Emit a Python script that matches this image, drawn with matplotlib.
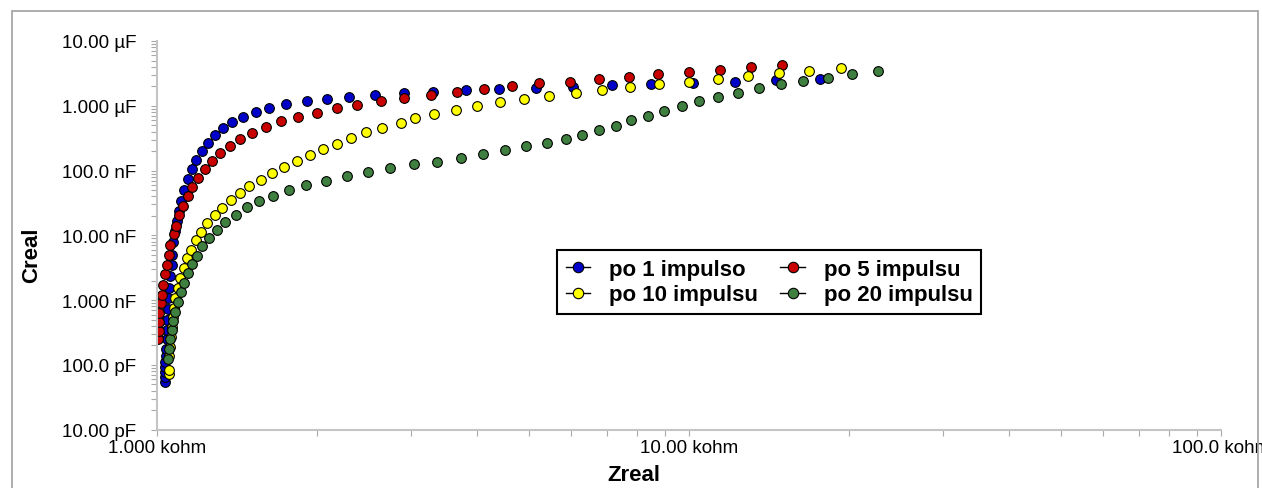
import matplotlib
matplotlib.use("Agg")
import matplotlib.pyplot as plt
from matplotlib.lines import Line2D
from matplotlib.patches import Rectangle
from matplotlib.ticker import FixedLocator, FixedFormatter, LogLocator, NullFormatter

plt.rcParams["font.family"] = ["Liberation Sans", "DejaVu Sans"]

# Zreal [kohm], Creal [F]
blue_z = [1.034, 1.034, 1.034, 1.035, 1.037, 1.038, 1.040, 1.043, 1.044, 1.044,
          1.047, 1.050, 1.053, 1.059, 1.066, 1.067, 1.073, 1.080, 1.089, 1.098,
          1.108, 1.123, 1.142, 1.162, 1.186, 1.213, 1.245, 1.286, 1.332, 1.384,
          1.453, 1.535, 1.626, 1.748, 1.914, 2.084, 2.296, 2.572, 2.917, 3.306,
          3.814, 4.395, 5.150, 6.06, 7.157, 8.483, 10.16, 12.18, 14.59, 17.65]
blue_c = [5.41e-11, 6.46e-11, 7.71e-11, 9.23e-11, 1.10e-10, 1.39e-10, 1.77e-10, 2.52e-10, 3.51e-10, 5.00e-10,
          7.31e-10, 1.09e-9, 1.54e-9, 2.34e-9, 3.49e-9, 4.99e-9, 7.83e-9, 1.16e-8, 1.69e-8, 2.40e-8,
          3.43e-8, 5.07e-8, 7.34e-8, 1.05e-7, 1.47e-7, 1.99e-7, 2.67e-7, 3.54e-7, 4.59e-7, 5.56e-7,
          6.79e-7, 8.11e-7, 9.25e-7, 1.05e-6, 1.17e-6, 1.29e-6, 1.37e-6, 1.48e-6, 1.58e-6, 1.65e-6,
          1.73e-6, 1.80e-6, 1.90e-6, 1.97e-6, 2.07e-6, 2.19e-6, 2.25e-6, 2.36e-6, 2.53e-6, 2.62e-6]

red_z = [1.004, 1.007, 1.009, 1.010, 1.019, 1.023, 1.028, 1.034, 1.044, 1.052,
         1.058, 1.075, 1.086, 1.101, 1.119, 1.142, 1.165, 1.194, 1.229, 1.269,
         1.315, 1.370, 1.432, 1.510, 1.605, 1.713, 1.844, 1.999, 2.177, 2.380,
         2.634, 2.917, 3.270, 3.664, 4.124, 4.655, 5.232, 5.967, 6.765, 7.70,
         8.755, 9.99, 11.42, 13.06, 14.93]
red_c = [2.52e-10, 3.38e-10, 4.56e-10, 6.34e-10, 8.95e-10, 1.20e-9, 1.73e-9, 2.51e-9, 3.49e-9, 5.04e-9,
         7.11e-9, 1.04e-8, 1.41e-8, 2.07e-8, 2.87e-8, 4.06e-8, 5.65e-8, 7.76e-8, 1.05e-7, 1.41e-7,
         1.85e-7, 2.42e-7, 3.08e-7, 3.85e-7, 4.71e-7, 5.83e-7, 6.79e-7, 7.82e-7, 9.25e-7, 1.04e-6,
         1.17e-6, 1.33e-6, 1.48e-6, 1.63e-6, 1.80e-6, 2.00e-6, 2.22e-6, 2.36e-6, 2.62e-6, 2.78e-6,
         3.10e-6, 3.32e-6, 3.53e-6, 3.93e-6, 4.22e-6]

yel_z = [1.053, 1.053, 1.055, 1.058, 1.061, 1.066, 1.070, 1.078, 1.082, 1.095,
         1.105, 1.123, 1.139, 1.158, 1.184, 1.212, 1.243, 1.286, 1.326, 1.376,
         1.432, 1.491, 1.568, 1.647, 1.733, 1.831, 1.939, 2.049, 2.180, 2.315,
         2.474, 2.652, 2.874, 3.055, 3.320, 3.648, 3.990, 4.413, 4.902, 5.456,
         6.124, 6.871, 7.760, 8.79, 9.99, 11.32, 12.90, 14.74, 16.83, 19.27]
yel_c = [7.26e-11, 8.45e-11, 1.39e-10, 1.88e-10, 2.67e-10, 3.82e-10, 5.45e-10, 7.66e-10, 1.09e-9, 1.53e-9,
         2.20e-9, 3.10e-9, 4.44e-9, 6.01e-9, 8.39e-9, 1.14e-8, 1.53e-8, 2.03e-8, 2.67e-8, 3.48e-8,
         4.47e-8, 5.78e-8, 7.24e-8, 9.18e-8, 1.12e-7, 1.42e-7, 1.74e-7, 2.13e-7, 2.60e-7, 3.18e-7,
         3.90e-7, 4.59e-7, 5.43e-7, 6.41e-7, 7.55e-7, 8.61e-7, 9.82e-7, 1.13e-6, 1.29e-6, 1.42e-6,
         1.58e-6, 1.73e-6, 1.93e-6, 2.15e-6, 2.36e-6, 2.59e-6, 2.88e-6, 3.18e-6, 3.41e-6, 3.79e-6]

grn_z = [1.050, 1.053, 1.058, 1.066, 1.073, 1.082, 1.096, 1.110, 1.124, 1.144,
         1.165, 1.190, 1.217, 1.254, 1.296, 1.345, 1.405, 1.474, 1.555, 1.654,
         1.773, 1.905, 2.075, 2.273, 2.493, 2.745, 3.045, 3.365, 3.724, 4.101,
         4.510, 4.939, 5.409, 5.865, 6.301, 6.784, 7.281, 7.780, 8.375, 8.988,
         9.69, 10.46, 11.34, 12.35, 13.54, 14.86, 16.40, 18.28, 20.25, 22.63]
grn_c = [1.24e-10, 1.77e-10, 2.48e-10, 3.40e-10, 4.72e-10, 6.58e-10, 9.29e-10, 1.33e-9, 1.84e-9, 2.58e-9,
         3.62e-9, 4.86e-9, 6.79e-9, 9.18e-9, 1.21e-8, 1.62e-8, 2.05e-8, 2.70e-8, 3.37e-8, 4.10e-8,
         5.07e-8, 6.00e-8, 6.98e-8, 8.34e-8, 9.51e-8, 1.08e-7, 1.25e-7, 1.37e-7, 1.58e-7, 1.79e-7,
         2.06e-7, 2.37e-7, 2.70e-7, 3.08e-7, 3.51e-7, 4.28e-7, 4.88e-7, 6.04e-7, 7.03e-7, 8.32e-7,
         9.93e-7, 1.17e-6, 1.38e-6, 1.59e-6, 1.86e-6, 2.15e-6, 2.44e-6, 2.69e-6, 3.06e-6, 3.48e-6]

labels = ["po 1 impulso", "po 5 impulsu", "po 10 impulsu", "po 20 impulsu"]
colors = ["#0000c8", "#c80000", "#ffff00", "#3f7f3f"]

x_ticks = [1, 10, 100]
x_ticklabels = ["1.000 kohm", "10.00 kohm", "100.0 kohm"]
y_ticks = [1e-11, 1e-10, 1e-9, 1e-8, 1e-7, 1e-6, 1e-5]
y_ticklabels = ["10.00 pF", "100.0 pF", "1.000 nF", "10.00 nF", "100.0 nF", "1.000 µF", "10.00 µF"]


def main():
    W, H = 1262, 489
    fig = plt.figure(figsize=(W / 100, H / 100), dpi=100)
    ax = fig.add_axes([157 / W, 1 - 430.7 / H, (1221 - 157) / W, (430.7 - 42) / H])

    series = [(blue_z, blue_c), (red_z, red_c), (yel_z, yel_c), (grn_z, grn_c)]
    for (z, c), col in zip(series, colors):
        ax.plot(z, c, linestyle="none", marker="o", ms=7, mfc=col,
                mec="black", mew=0.8)

    ax.set_xscale("log")
    ax.set_yscale("log")
    ax.set_xlim(1, 100)
    ax.set_ylim(1e-11, 1e-5)

    ax.xaxis.set_major_locator(FixedLocator(x_ticks))
    ax.xaxis.set_major_formatter(FixedFormatter(x_ticklabels))
    ax.yaxis.set_major_locator(FixedLocator(y_ticks))
    ax.yaxis.set_major_formatter(FixedFormatter(y_ticklabels))
    for a in (ax.xaxis, ax.yaxis):
        a.set_minor_locator(LogLocator(base=10, subs=range(2, 10)))
        a.set_minor_formatter(NullFormatter())

    for s in ("top", "right"):
        ax.spines[s].set_visible(False)
    for s in ("left", "bottom"):
        ax.spines[s].set_color("#c4c4c4")
        ax.spines[s].set_linewidth(1.5)
    ax.tick_params(which="both", direction="out", color="#a8a8a8", length=4, width=0.8)
    ax.tick_params(axis="y", which="major", pad=11, labelsize=13.5)
    ax.tick_params(axis="x", which="major", pad=3, labelsize=13.5)

    ax.set_xlabel("Zreal", fontsize=16, fontweight="bold")
    ax.set_ylabel("Creal", fontsize=16, fontweight="bold")
    ax.xaxis.set_label_coords((634 - 157) / 1064, (430.7 - 476) / 388.7)
    ax.yaxis.set_label_coords((31.5 - 157) / 1064, (430.7 - 255) / 388.7)
    ax.xaxis.label.set_va("center")
    ax.yaxis.label.set_va("center")

    handles = [Line2D([], [], color="black", lw=1, marker="o", ms=7.5, mfc=col,
                      mec="black", mew=0.8) for col in colors]
    order = [0, 2, 1, 3]
    leg = ax.legend([handles[i] for i in order], [labels[i] for i in order],
                    ncol=2, loc="upper left",
                    bbox_to_anchor=((557 - 157) / 1064, (430.7 - 250.7) / 388.7),
                    borderaxespad=0, frameon=True, fancybox=False, framealpha=1,
                    edgecolor="black", prop={"weight": "bold", "size": 16},
                    handlelength=1.1, handletextpad=0.85, columnspacing=1.0,
                    labelspacing=0.22, borderpad=0.4)
    leg.get_frame().set_linewidth(1.5)

    fig.add_artist(Rectangle((11.5 / W, -0.1), (1257.7 - 11.5) / W, 1.1 - 12.3 / H,
                             transform=fig.transFigure, fill=False,
                             edgecolor="#a0a0a0", lw=1.2))

    fig.savefig("out.png", dpi=100)


if __name__ == "__main__":
    main()
